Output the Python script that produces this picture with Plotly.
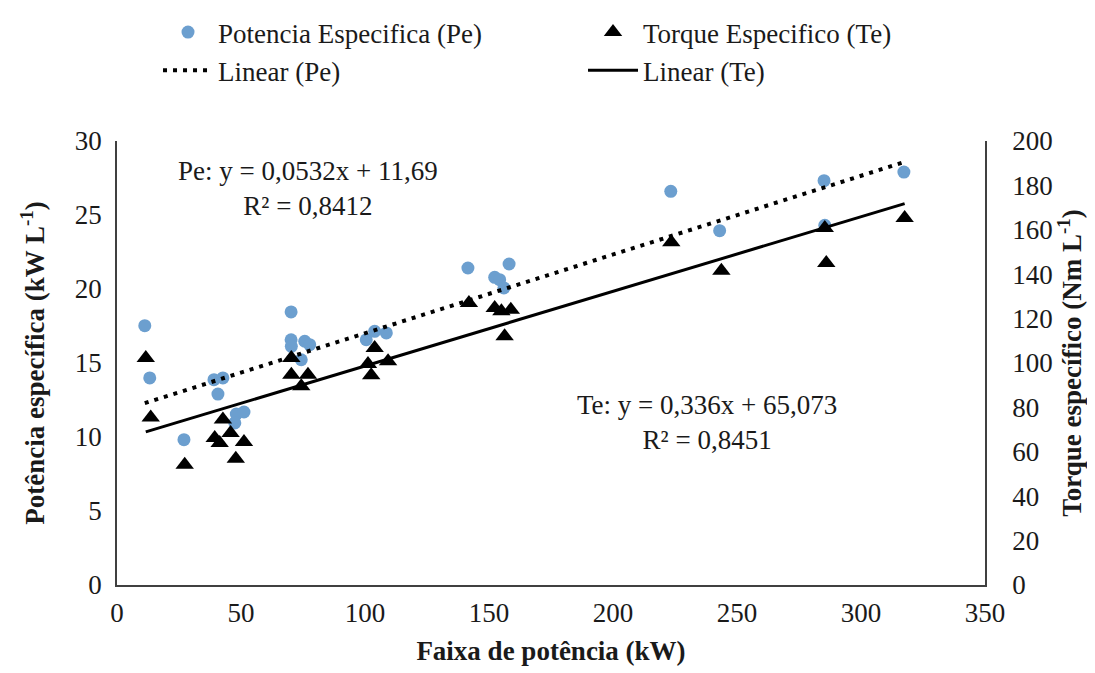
import numpy as np
import plotly.graph_objects as go

# Potência específica (Pe) data
pe_x = [11.2, 13.2, 27.0, 39.1, 42.7, 40.7, 48.1, 51.2, 47.5, 70.2, 70.2, 70.3, 75.7, 77.7,
        74.3, 100.5, 103.9, 108.6, 141.5, 158.1, 152.3, 154.3, 156.0, 223.3, 243.0, 285.1,
        285.4, 317.3]
pe_y = [17.52, 13.99, 9.82, 13.87, 13.99, 12.9, 11.55, 11.69, 10.95, 18.45, 16.57, 16.13,
        16.47, 16.24, 15.22, 16.57, 17.14, 17.03, 21.42, 21.69, 20.79, 20.63, 20.07, 26.6,
        23.94, 27.32, 24.3, 27.9]

# Torque específico (Te) data
te_x = [11.6, 13.6, 27.3, 39.4, 41.4, 42.7, 45.8, 51.2, 47.9, 70.3, 70.3, 77.0, 74.3,
        103.9, 101.2, 109.3, 102.5, 141.9, 152.3, 155.0, 158.8, 156.3, 223.5, 243.7,
        285.4, 286.0, 317.6]
te_y = [102.3, 75.5, 54.2, 66.2, 64.0, 74.5, 68.5, 64.4, 56.9, 102.3, 94.7, 94.7, 89.5,
        106.8, 99.5, 100.8, 94.5, 127.0, 124.8, 123.3, 124.0, 112.0, 154.4, 141.6,
        160.8, 145.0, 165.3]

# Trendline coefficients (from chart labels)
pe_slope, pe_intercept = 0.0532, 11.69
te_slope, te_intercept = 0.336, 65.073

x_ticks = [0, 50, 100, 150, 200, 250, 300, 350]
y1_ticks = [0, 5, 10, 15, 20, 25, 30]
y2_ticks = [0, 20, 40, 60, 80, 100, 120, 140, 160, 180, 200]

FONT = "'Liberation Serif', 'Times New Roman', 'DejaVu Serif', serif"
TXT = "#1a1a1a"
BLUE = "#6C9FCF"
FS = 27

pe_lx = np.array([min(pe_x), max(pe_x)])
te_lx = np.array([min(te_x), max(te_x)])

fig = go.Figure()
fig.add_trace(go.Scatter(x=pe_x, y=pe_y, mode="markers", name="Potencia Especifica (Pe)",
                         marker=dict(symbol="circle", size=13, color=BLUE)))
fig.add_trace(go.Scatter(x=te_x, y=te_y, mode="markers", name="Torque Especifico (Te)",
                         yaxis="y2",
                         marker=dict(symbol="triangle-up", size=16, color="black")))
fig.add_trace(go.Scatter(x=pe_lx, y=pe_slope * pe_lx + pe_intercept, mode="lines",
                         name="Linear (Pe)",
                         line=dict(color="black", width=4, dash="4px,6px")))
fig.add_trace(go.Scatter(x=te_lx, y=te_slope * te_lx + te_intercept, mode="lines",
                         name="Linear (Te)", yaxis="y2",
                         line=dict(color="black", width=3)))

fig.add_annotation(x=77, y=26.8, xref="x", yref="y",
                   text="Pe: y = 0,0532x + 11,69<br>R² = 0,8412",
                   showarrow=False, align="center",
                   font=dict(family=FONT, size=FS, color=TXT))
fig.add_annotation(x=238, y=11.0, xref="x", yref="y",
                   text="Te: y = 0,336x + 65,073<br>R² = 0,8451",
                   showarrow=False, align="center",
                   font=dict(family=FONT, size=FS, color=TXT))

fig.update_layout(
    width=1095, height=673,
    margin=dict(l=109, r=118, t=133, b=96, autoexpand=False),
    paper_bgcolor="white", plot_bgcolor="white",
    font=dict(family=FONT, size=FS, color=TXT),
    showlegend=True,
    legend=dict(orientation="h", x=0.137, xanchor="left", xref="container",
                y=1.0, yanchor="top", yref="container",
                entrywidth=360, entrywidthmode="pixels",
                font=dict(family=FONT, size=FS, color=TXT), bgcolor="rgba(0,0,0,0)",
                tracegroupgap=0, itemwidth=50),
    xaxis=dict(range=[0, 350], tickvals=x_ticks, showgrid=False, zeroline=False,
               showline=True, linecolor="#404040", linewidth=1.5, ticks="",
               ticklabelstandoff=3,
               title=dict(text="<b>Faixa de potência (kW)</b>", standoff=14,
                          font=dict(family=FONT, size=FS, color=TXT))),
    yaxis=dict(range=[0, 30], tickvals=y1_ticks, showgrid=False, zeroline=False,
               showline=True, linecolor="#404040", linewidth=1.5, ticks="",
               ticklabelstandoff=8,
               title=dict(text="<b>Potência específica (kW L<sup>-1</sup>)</b>", standoff=22,
                          font=dict(family=FONT, size=FS, color=TXT))),
    yaxis2=dict(range=[0, 200], tickvals=y2_ticks, overlaying="y", side="right",
                showgrid=False, zeroline=False, showline=True, linecolor="#404040",
                linewidth=1.5, ticks="", ticklabelstandoff=20,
                title=dict(text="<b>Torque específico (Nm L<sup>-1</sup>)</b>", standoff=8,
                           font=dict(family=FONT, size=FS, color=TXT))),
)

fig.write_html("out.html")
